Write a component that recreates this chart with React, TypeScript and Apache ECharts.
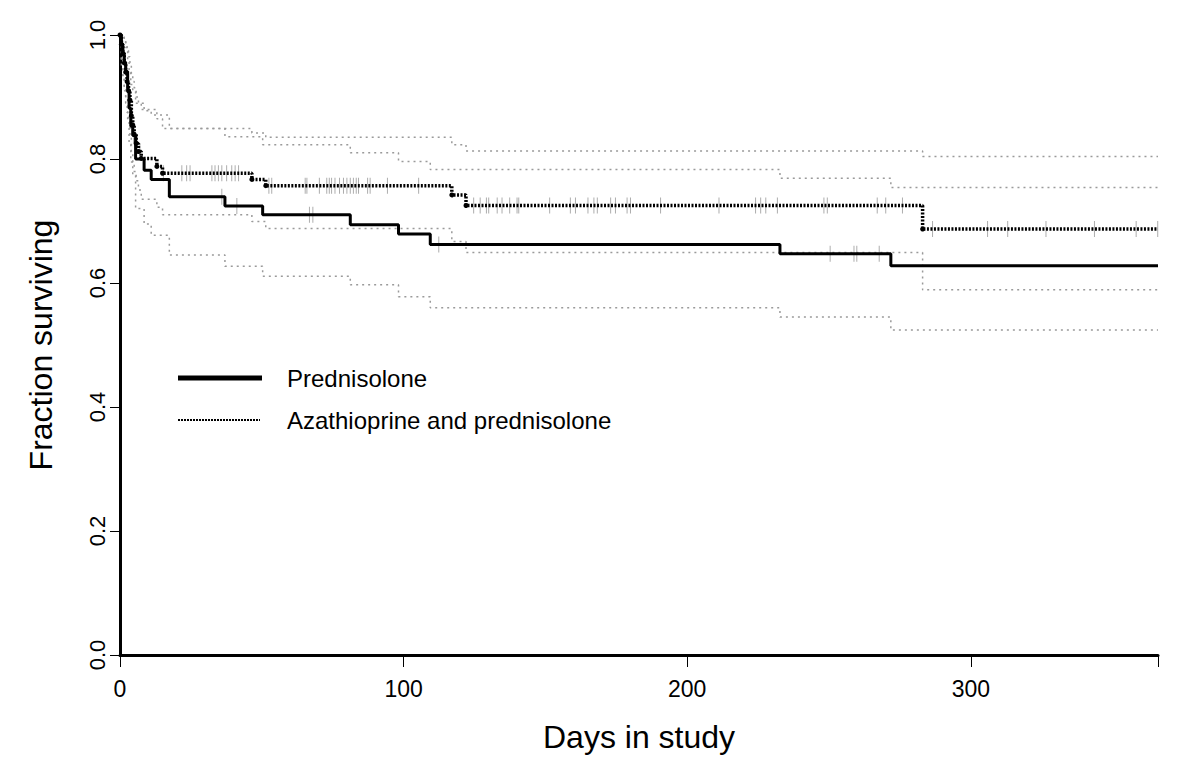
import React, { useEffect, useRef } from "react";
import * as echarts from "echarts";

// Kaplan-Meier step data (time in days, survival fraction)
const predTimes = [0, 0.5, 1, 1.5, 2, 2.7, 3.2, 3.8, 4.5, 5.5, 8.5, 11, 17.4, 37, 50.3, 81.2, 98.2, 109.4, 232.7, 271.8];
const predSurv = [1, 0.985, 0.971, 0.956, 0.941, 0.912, 0.882, 0.853, 0.838, 0.8, 0.782, 0.767, 0.739, 0.724, 0.71, 0.694, 0.679, 0.662, 0.647, 0.628];
const predUpper = [1, 1, 1, 0.99, 0.98, 0.96, 0.94, 0.92, 0.91, 0.89, 0.878, 0.871, 0.849, 0.836, 0.823, 0.81, 0.796, 0.783, 0.769, 0.754];
const predLower = [1, 0.96, 0.935, 0.915, 0.895, 0.86, 0.825, 0.795, 0.775, 0.72, 0.695, 0.677, 0.645, 0.627, 0.611, 0.597, 0.578, 0.56, 0.545, 0.524];
const predCensor = [4.2, 4.8, 35.9, 41.2, 66.8, 68, 112.4, 250.4, 258.8, 259.8, 267.7];

const azaTimes = [0, 0.5, 1, 1.5, 2, 2.5, 3, 3.5, 4, 4.5, 5, 5.7, 6.5, 7.5, 13, 15, 46.5, 51.4, 117, 122, 283];
const azaSurv = [1, 0.985, 0.97, 0.955, 0.94, 0.925, 0.91, 0.895, 0.87, 0.855, 0.84, 0.825, 0.812, 0.801, 0.788, 0.777, 0.767, 0.757, 0.742, 0.725, 0.687];
const azaUpper = [1, 1, 1, 0.995, 0.985, 0.975, 0.965, 0.955, 0.935, 0.925, 0.915, 0.9, 0.89, 0.88, 0.865, 0.849, 0.842, 0.835, 0.823, 0.813, 0.804];
const azaLower = [1, 0.95, 0.93, 0.91, 0.89, 0.875, 0.86, 0.84, 0.81, 0.795, 0.78, 0.765, 0.75, 0.735, 0.722, 0.71, 0.699, 0.688, 0.667, 0.649, 0.589];
const azaCensor = [6, 7, 15.3, 21.8, 23.5, 24.7, 32.4, 33.5, 34.7, 35.9, 37.6, 39.4, 40.6, 41.8, 52.5, 53.5, 65.3, 65.9, 70.3, 72.9, 73.8, 74.6, 75.8, 77.4, 78.8, 80, 81.2, 82.3, 83.3, 84.1, 87.3, 88.2, 94.3, 105.3, 124.7, 127, 129.2, 130, 133, 134.7, 137.4, 140, 140.6, 151.5, 158.8, 160.6, 165, 167.1, 168.3, 173, 174.7, 178.8, 180, 190.6, 211.2, 224.1, 225.9, 227.7, 231.8, 248.2, 249.4, 267, 270, 275.9, 286.5, 305.9, 313, 326.5, 343.6, 358.3, 365.9];

const xTicks = [0, 100, 200, 300];
const yTicks = ["0.0", "0.2", "0.4", "0.6", "0.8", "1.0"];
const xMax = 366;

const legendNames = ["Prednisolone", "Azathioprine and prednisolone"];

function stepSeries(times: number[], vals: number[]) {
  const d: any[] = times.map((t, i) => [t, vals[i]]);
  d.push({ value: [xMax, vals[vals.length - 1]], symbol: "none" });
  return d;
}
function valueAt(times: number[], vals: number[], t: number) {
  let v = vals[0];
  for (let i = 0; i < times.length; i++) if (times[i] <= t) v = vals[i];
  return v;
}

const FONT = "Liberation Sans, Arial, sans-serif";

export default function App() {
  const ref = useRef<HTMLDivElement>(null);
  useEffect(() => {
    if (!ref.current) return;
    const chart = echarts.init(ref.current, null, { renderer: "svg" });
    const band = (name: string, times: number[], vals: number[]) => ({
      name,
      type: "line",
      step: "end",
      data: stepSeries(times, vals),
      showSymbol: false,
      lineStyle: { color: "#9a9a9a", width: 1.5, type: [2, 4] },
      z: 1,
    });
    chart.setOption({
      animation: false,
      backgroundColor: "#fff",
      grid: { left: 120, right: 42, top: 35, bottom: 113 },
      xAxis: {
        type: "value",
        min: 0,
        max: xMax,
        interval: 100,
        name: "Days in study",
        nameLocation: "middle",
        nameGap: 66,
        nameTextStyle: { fontSize: 32, color: "#000", fontFamily: FONT },
        axisLine: { show: true, lineStyle: { color: "#000", width: 3 } },
        axisTick: { show: true, length: 12, lineStyle: { color: "#000", width: 1 } },
        axisLabel: {
          fontSize: 23,
          color: "#000",
          margin: 22,
          fontFamily: FONT,
          formatter: (v: number) => (xTicks.includes(v) ? String(v) : ""),
        },
        splitLine: { show: false },
      },
      yAxis: {
        type: "value",
        min: 0,
        max: 1,
        interval: 0.2,
        name: "Fraction surviving",
        nameLocation: "middle",
        nameGap: 63,
        nameTextStyle: { fontSize: 32, color: "#000", fontFamily: FONT },
        axisLine: { show: true, lineStyle: { color: "#000", width: 3 } },
        axisTick: { show: true, length: 10, lineStyle: { color: "#000", width: 1 } },
        axisLabel: {
          fontSize: 22,
          color: "#000",
          rotate: 90,
          margin: 12,
          fontFamily: FONT,
          formatter: (v: number) => yTicks[Math.round(v * 5)],
        },
        splitLine: { show: false },
      },
      series: [
        band("predU", predTimes, predUpper),
        band("predL", predTimes, predLower),
        band("azaU", azaTimes, azaUpper),
        band("azaL", azaTimes, azaLower),
        {
          name: "predCens",
          type: "scatter",
          symbol: "rect",
          symbolSize: [1, 16],
          itemStyle: { color: "#999" },
          data: predCensor.map((t) => [t, valueAt(predTimes, predSurv, t)]),
          z: 2,
        },
        {
          name: "azaCens",
          type: "scatter",
          symbol: "rect",
          symbolSize: [1, 16],
          itemStyle: { color: "#999" },
          data: azaCensor.map((t) => [t, valueAt(azaTimes, azaSurv, t)]),
          z: 2,
        },
        {
          name: legendNames[0],
          type: "line",
          step: "end",
          data: stepSeries(predTimes, predSurv),
          showSymbol: false,
          lineStyle: { color: "#000", width: 3 },
          z: 3,
        },
        {
          name: legendNames[1],
          type: "line",
          step: "end",
          data: stepSeries(azaTimes, azaSurv),
          symbol: "circle",
          symbolSize: 5,
          showSymbol: true,
          itemStyle: { color: "#000" },
          lineStyle: { color: "#000", width: 3.5, type: [2, 1.5] },
          z: 4,
        },
      ],
      graphic: [
        { type: "line", shape: { x1: 178, y1: 378, x2: 262, y2: 378 }, style: { stroke: "#000", lineWidth: 5 } },
        { type: "text", x: 287, y: 378, style: { text: legendNames[0], fontSize: 24, fill: "#000", fontFamily: FONT, verticalAlign: "middle" } },
        { type: "line", shape: { x1: 178, y1: 420, x2: 260, y2: 420 }, style: { stroke: "#000", lineWidth: 2, lineDash: [2, 1] } },
        { type: "text", x: 287, y: 420, style: { text: legendNames[1], fontSize: 24, fill: "#000", fontFamily: FONT, verticalAlign: "middle" } },
      ],
    });
    return () => chart.dispose();
  }, []);
  return <div ref={ref} style={{ position: "fixed", left: 0, top: 0, width: 1200, height: 768 }} />;
}
